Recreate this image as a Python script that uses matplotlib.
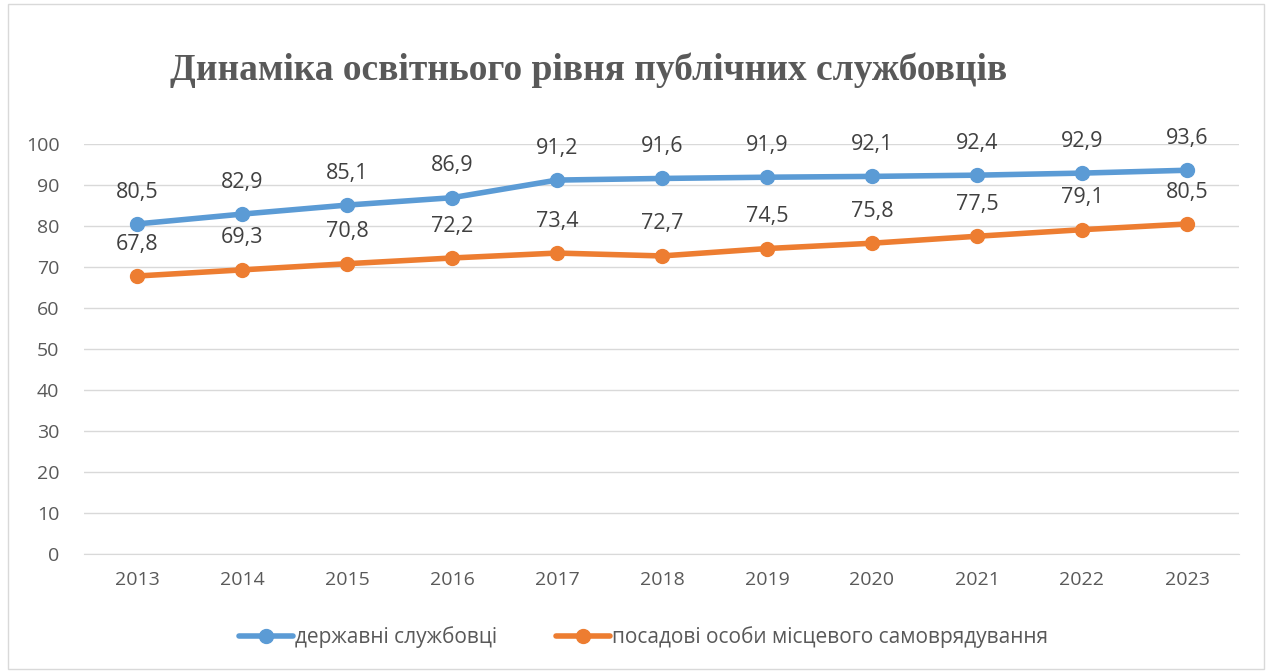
import matplotlib
matplotlib.use('Agg')
import matplotlib.pyplot as plt
from matplotlib.patches import Rectangle

years = ['2013', '2014', '2015', '2016', '2017', '2018', '2019', '2020', '2021', '2022', '2023']
civil_servants = [80.5, 82.9, 85.1, 86.9, 91.2, 91.6, 91.9, 92.1, 92.4, 92.9, 93.6]
local_officials = [67.8, 69.3, 70.8, 72.2, 73.4, 72.7, 74.5, 75.8, 77.5, 79.1, 80.5]
series_names = ['державні службовці', 'посадові особи місцевого самоврядування']

text_color = '#595959'
font = 'Open Sans'

fig = plt.figure(figsize=(12.72, 6.72), dpi=100)
ax = fig.add_axes([0.0664, 0.1756, 0.908, 0.6101])

# chart border
fig.patches.append(Rectangle((0.006, 0.004), 0.988, 0.99, transform=fig.transFigure,
                             fill=False, edgecolor='#d9d9d9', linewidth=1))

x = list(range(len(years)))
ax.plot(x, civil_servants, color='#5b9bd5', linewidth=4, marker='o', markersize=10,
        label=series_names[0], solid_capstyle='round')
ax.plot(x, local_officials, color='#ed7d31', linewidth=4, marker='o', markersize=10,
        label=series_names[1], solid_capstyle='round')

for xi, v in zip(x, civil_servants):
    ax.annotate(f'{v:.1f}'.replace('.', ','), (xi, v), xytext=(0, 23), textcoords='offset points',
                ha='center', va='center', fontsize=15.5, color='#404040', family=font)
for xi, v in zip(x, local_officials):
    ax.annotate(f'{v:.1f}'.replace('.', ','), (xi, v), xytext=(0, 23), textcoords='offset points',
                ha='center', va='center', fontsize=15.5, color='#404040', family=font)

ax.set_xlim(-0.5, len(years) - 0.5)
ax.set_ylim(0, 100)
ax.set_yticks(range(0, 101, 10))
ax.set_xticks(x)
ax.set_xticklabels(years)
ax.grid(axis='y', color='#d9d9d9', linewidth=1)
ax.set_axisbelow(True)
for s in ['top', 'right', 'left']:
    ax.spines[s].set_visible(False)
ax.spines['bottom'].set_color('#d9d9d9')
ax.tick_params(length=0, labelsize=14, colors=text_color, pad=12)
for lab in ax.get_xticklabels() + ax.get_yticklabels():
    lab.set_family(font)
ax.tick_params(axis='y', pad=18)

fig.text(0.463, 0.895, 'Динаміка освітнього рівня публічних службовців', ha='center', va='center',
         fontsize=27, fontweight='bold', color=text_color, family='Liberation Serif')

fig.legend(loc='center', bbox_to_anchor=(0.506, 0.052), ncol=2, frameon=False,
           prop={'family': font, 'size': 15}, labelcolor=text_color,
           handlelength=2.6, handletextpad=0.1, columnspacing=2.8)

plt.savefig('out.png', dpi=100)
